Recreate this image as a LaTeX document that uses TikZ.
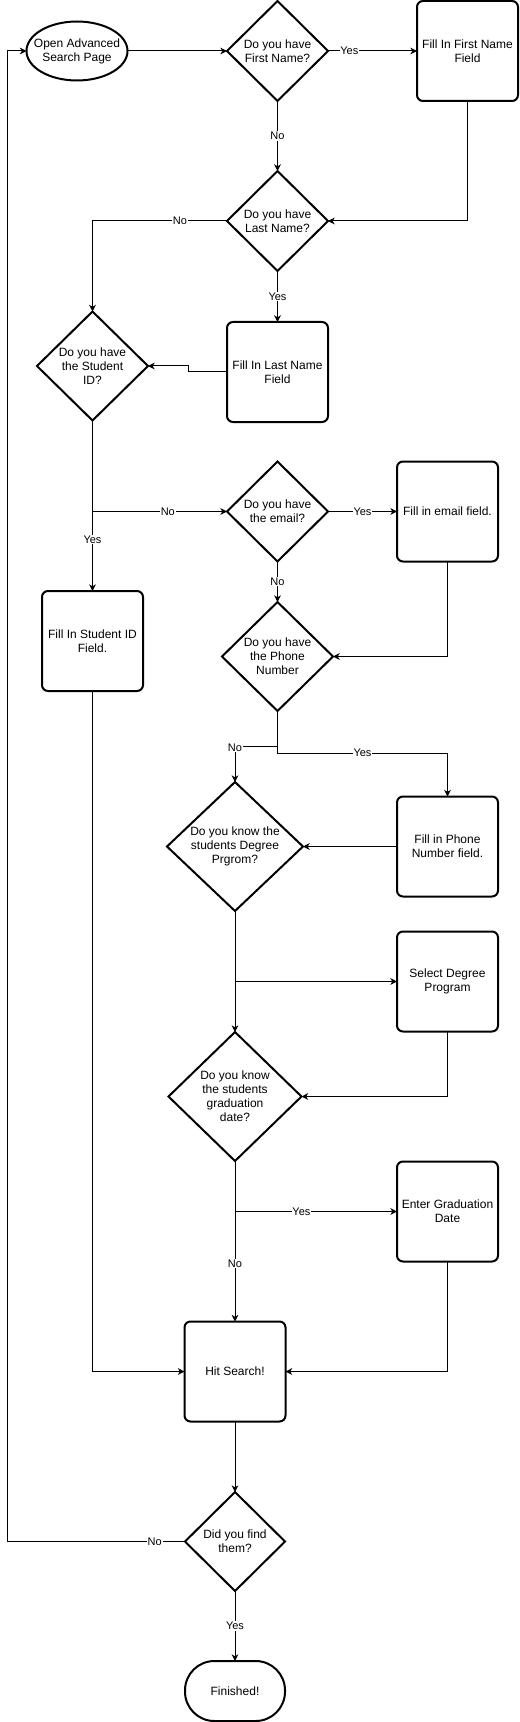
\documentclass[tikz,border=0pt]{standalone}
\usepackage{fontspec}
\setmainfont{Liberation Sans}
\usetikzlibrary{shapes.geometric,arrows.meta}

\tikzset{
  base/.style={draw, line width=1.5pt, align=center, inner sep=0pt, outer sep=0pt},
  proc/.style={base, rectangle, rounded corners=4.5pt, minimum width=75.75pt, minimum height=75pt},
  decision/.style={base, diamond, aspect=1},
  startoval/.style={base, ellipse, minimum width=75.75pt, minimum height=44.25pt},
  stopbox/.style={base, rectangle, rounded corners=22pt, minimum width=75pt, minimum height=45pt},
  txt/.style={align=center, inner sep=0pt},
  flow/.style={line width=0.75pt, -{Stealth[length=5pt,width=5pt,inset=1.5pt]}},
  lbl/.style={fill=white, inner sep=0.6pt, font=\fontsize{8.25}{9}\selectfont},
}

\begin{document}
\begin{tikzpicture}[x=0.75pt, y=-0.75pt, font=\fontsize{9}{10.5}\selectfont]
      \useasboundingbox (0,0) rectangle (519,1722);
      \node[startoval] (start) at (77,51) {};
      \node[txt] (starttxt) at (start) {Open Advanced\\Search Page};
      \node[decision, minimum width=75.75pt, minimum height=75pt] (d1) at (277.5,51) {Do you have\\First Name?};
      \node[proc] (fill1) at (467.5,51) {Fill In First Name\\Field};
      \node[decision, minimum width=75.75pt, minimum height=75pt] (d2) at (277.5,221) {Do you have\\Last Name?};
      \node[decision, minimum width=83.25pt, minimum height=81.75pt] (d3) at (92.5,366) {Do you have\\the Student\\ID?};
      \node[proc] (fill2) at (277.5,372) {Fill In Last Name\\Field};
      \node[decision, minimum width=75.75pt, minimum height=75pt] (d4) at (277.5,511.5) {Do you have\\the email?};
      \node[proc] (fill4) at (447.5,511.5) {Fill in email field.};
      \node[proc] (fill3) at (92.5,641) {Fill In Student ID\\Field.};
      \node[decision, minimum width=83.25pt, minimum height=81.75pt] (d5) at (277.5,656.5) {Do you have\\the Phone\\Number};
      \node[decision, minimum width=102pt, minimum height=96.75pt] (d6) at (235,846.5) {Do you know the\\students Degree\\Prgrom?};
      \node[proc] (fill5) at (447.5,846.5) {Fill in Phone\\Number field.};
      \node[proc] (fill6) at (447.5,981.5) {Select Degree\\Program};
      \node[decision, minimum width=99.75pt, minimum height=96.75pt] (d7) at (235,1096.5) {Do you know\\the students\\graduation\\date?};
      \node[proc] (fill7) at (447.5,1211.5) {Enter Graduation\\Date};
      \node[proc] (hit) at (235,1371.5) {Hit Search!};
      \node[decision, minimum width=75pt, minimum height=74.25pt] (d8) at (235,1541.5) {Did you find\\them?};
      \node[stopbox] (done) at (235,1691) {Finished!};
      \coordinate (split1) at (d3.south |- d4.west);
      \coordinate (split2) at (d6.south |- fill6.west);
      \coordinate (split3) at (d7.south |- fill7.west);
      \begin{scope}[flow]
        \draw (start.east) to (d1.west);
        \draw (d1.east) to node[lbl, pos=0.24]{Yes} (fill1.west);
        \draw (d1.south) to node[lbl]{No} (d2.north);
        \draw (fill1.south) |- (d2.east);
        \draw (d2.west) -| node[lbl, pos=0.175]{No} (d3.north);
        \draw (d2.south) to node[lbl]{Yes} (fill2.north);
        \draw (fill2.west) -- ++(-39,0) |- (d3.east);
        \draw (d3.south) to node[lbl, pos=0.7]{Yes} (fill3.north);
        \draw (split1) to node[lbl, pos=0.56]{No} (d4.west);
        \draw (d4.east) to node[lbl]{Yes} (fill4.west);
        \draw (d4.south) to node[lbl]{No} (d5.north);
        \draw (fill4.south) |- (d5.east);
        \draw (d5.south) -- ++(0,35) -| node[lbl, pos=0.52]{No} (d6.north);
        \draw (d5.south) -- ++(0,42) -| node[lbl, pos=0.25]{Yes} (fill5.north);
        \draw (fill5.west) to (d6.east);
        \draw (d6.south) to (d7.north);
        \draw (split2) to (fill6.west);
        \draw (fill6.south) |- (d7.east);
        \draw (d7.south) to node[lbl, pos=0.64]{No} (hit.north);
        \draw (split3) to node[lbl, pos=0.41]{Yes} (fill7.west);
        \draw (fill3.south) |- (hit.west);
        \draw (fill7.south) |- (hit.east);
        \draw (hit.south) to (d8.north);
        \draw (d8.west) -- node[lbl, pos=0.17]{No} ++(-178,0) |- (start.west);
        \draw (d8.south) to node[lbl]{Yes} (done.north);
      \end{scope}
    \end{tikzpicture}
\end{document}
